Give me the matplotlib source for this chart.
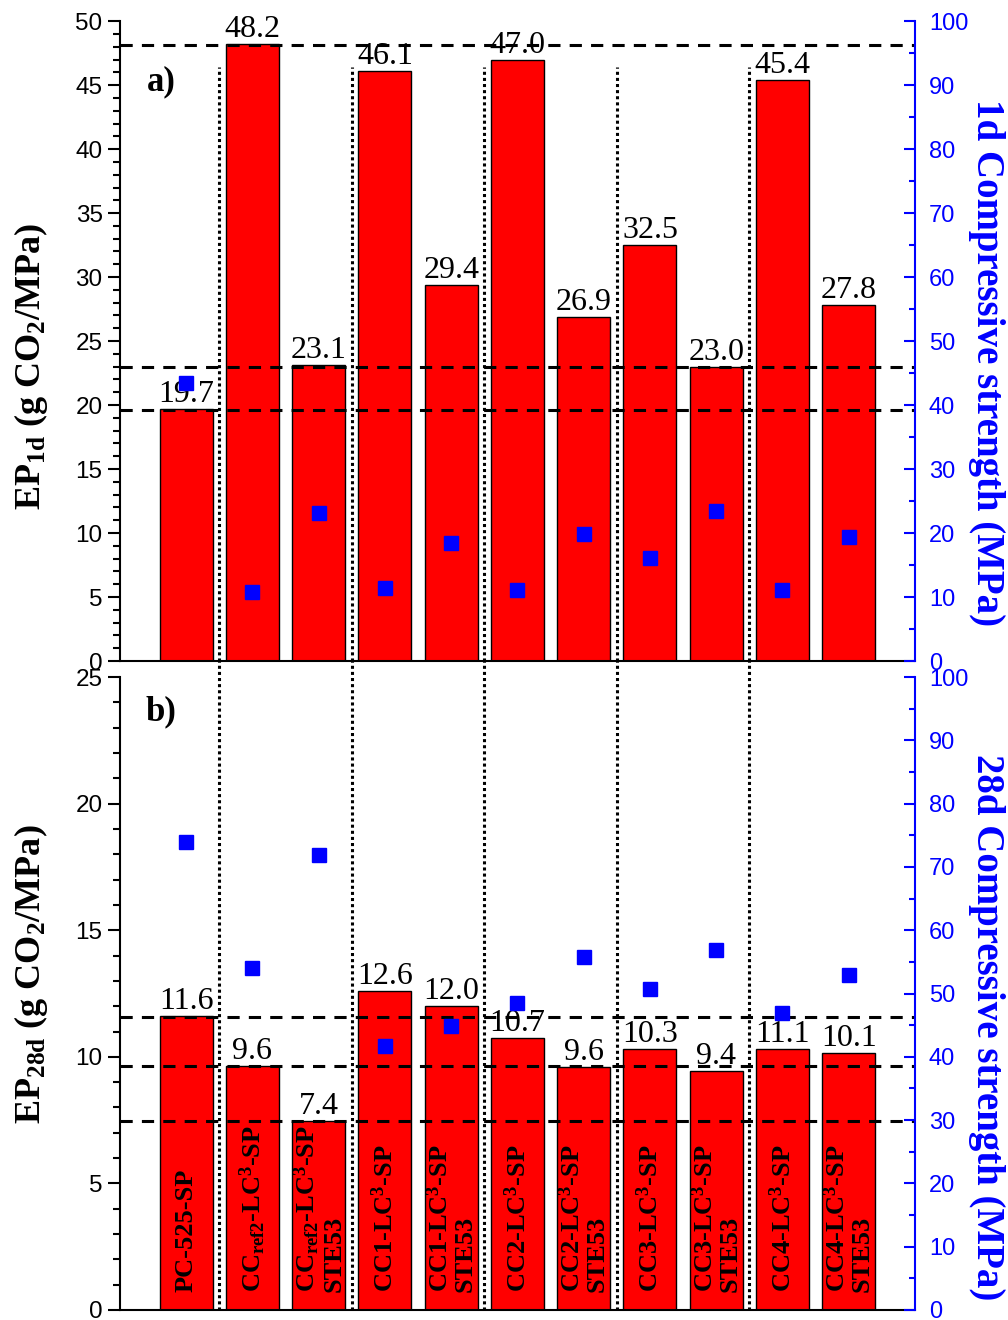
import numpy as np
import matplotlib
matplotlib.use('Agg')
import matplotlib.pyplot as plt
from matplotlib.ticker import MultipleLocator

plt.rcParams['font.family'] = 'Liberation Sans'
plt.rcParams['mathtext.fontset'] = 'custom'
plt.rcParams['mathtext.rm'] = 'Liberation Serif:bold'
plt.rcParams['mathtext.it'] = 'Liberation Serif:bold:italic'
plt.rcParams['mathtext.bf'] = 'Liberation Serif:bold'
plt.rcParams['mathtext.default'] = 'rm'

# mixes
names = ['PC-525-SP',
         'CC$_{ref2}$-LC$^3$-SP',
         'CC$_{ref2}$-LC$^3$-SP\nSTE53',
         'CC1-LC$^3$-SP',
         'CC1-LC$^3$-SP\nSTE53',
         'CC2-LC$^3$-SP',
         'CC2-LC$^3$-SP\nSTE53',
         'CC3-LC$^3$-SP',
         'CC3-LC$^3$-SP\nSTE53',
         'CC4-LC$^3$-SP',
         'CC4-LC$^3$-SP\nSTE53']

# 1 day
ep_1d = [19.7, 48.2, 23.1, 46.1, 29.4, 47.0, 26.9, 32.5, 23.0, 45.4, 27.8]
ep_1d_txt = ['19.7', '48.2', '23.1', '46.1', '29.4', '47.0', '26.9', '32.5', '23.0', '45.4', '27.8']
cs_1d = [43.5, 10.8, 23.2, 11.4, 18.5, 11.1, 19.9, 16.1, 23.4, 11.1, 19.4]
ref_1d = [48.1, 23.0, 19.6]

# 28 days
ep_28d = [11.6, 9.65, 7.45, 12.6, 12.0, 10.75, 9.6, 10.3, 9.45, 10.3, 10.15]
ep_28d_txt = ['11.6', '9.6', '7.4', '12.6', '12.0', '10.7', '9.6', '10.3', '9.4', '11.1', '10.1']
cs_28d = [73.9, 54.0, 71.9, 41.7, 44.9, 48.5, 55.7, 50.7, 56.9, 47.0, 52.9]
ref_28d = [11.57, 9.64, 7.46]

# group separators
seps = [1.5, 3.5, 5.5, 7.5, 9.5]

x = np.arange(1, len(names) + 1)
serif = 'Liberation Serif'

fig = plt.figure(figsize=(10.08, 13.2), dpi=100)
ax_a = fig.add_axes([0.119, 0.4992, 0.7887, 0.4848])
ax_b = fig.add_axes([0.119, 0.00758, 0.7887, 0.4795])


def panel(ax, ep, ep_txt, cs, refs, ymax, sep_top, tag, tag_y, ylab, rlab, ly, ry):
    ax.bar(x, ep, width=0.8, color='#ff0000', edgecolor='black', linewidth=1, zorder=2)
    ax.set_xlim(0, 12)
    ax.set_ylim(0, ymax)
    for r in refs:
        ax.axhline(r, color='black', lw=2.2, ls=(0, (4, 3)), zorder=3)
    for s in seps:
        ax.plot([s, s], [0, sep_top], color='black', lw=2.2, ls=(0, (1, 1)),
                zorder=3, clip_on=False)
    for xi, h, t in zip(x, ep, ep_txt):
        ax.annotate(t, (xi, h), xytext=(0, 0), textcoords='offset points',
                    ha='center', va='bottom', fontsize=23, family=serif, zorder=5)
    ax.text(0.052, tag_y, tag, transform=ax.transAxes, ha='center', va='center',
            fontsize=25, fontweight='bold', family=serif)

    ax.set_xticks([])
    ax.yaxis.set_major_locator(MultipleLocator(5))
    ax.yaxis.set_minor_locator(MultipleLocator(1))
    ax.tick_params(axis='y', which='major', direction='out', length=8.5, width=1.5,
                   labelsize=17.5, pad=4)
    ax.tick_params(axis='y', which='minor', direction='out', length=5, width=1.5)
    ax.spines['top'].set_visible(False)
    ax.spines['right'].set_visible(False)
    ax.spines['left'].set_linewidth(1.5)
    ax.spines['bottom'].set_linewidth(1.5)
    ax.set_ylabel(ylab, fontsize=26, fontweight='bold', family=serif)
    ax.yaxis.set_label_coords(-0.088, ly)

    ax2 = ax.twinx()
    ax2.plot(x, cs, 's', color='#0000ff', ms=9.5, mec='#0000ff', zorder=6)
    ax2.set_ylim(0, 100)
    ax2.yaxis.set_major_locator(MultipleLocator(10))
    ax2.yaxis.set_minor_locator(MultipleLocator(5))
    ax2.tick_params(axis='y', which='major', direction='in', length=8, width=1.5,
                    colors='#0000ff', labelsize=17, pad=10)
    ax2.tick_params(axis='y', which='minor', direction='in', length=4, width=1.5,
                    colors='#0000ff')
    for side in ['top', 'left', 'bottom']:
        ax2.spines[side].set_visible(False)
    ax2.spines['right'].set_color('#0000ff')
    ax2.spines['right'].set_linewidth(1.5)
    ax2.set_ylabel(rlab, rotation=270, color='#0000ff', fontsize=28,
                   fontweight='bold', family=serif)
    ax2.yaxis.set_label_coords(1.113, ry)
    return ax2


panel(ax_a, ep_1d, ep_1d_txt, cs_1d, ref_1d, 50, 46.4, 'a)', 0.905,
      'EP$_{1d}$ (g CO$_2$/MPa)', '1d Compressive strength (MPa)', 0.46, 0.467)
panel(ax_b, ep_28d, ep_28d_txt, cs_28d, ref_28d, 25, 25.63, 'b)', 0.945,
      'EP$_{28d}$ (g CO$_2$/MPa)', '28d Compressive strength (MPa)', 0.53, 0.447)

for xi, n in zip(x, names):
    ax_b.text(xi, 0.7, n, rotation=90, ha='center', va='bottom', multialignment='left',
              fontsize=19, fontweight='bold', family=serif, linespacing=1.05, zorder=5)

fig.savefig('out.png', dpi=100)
